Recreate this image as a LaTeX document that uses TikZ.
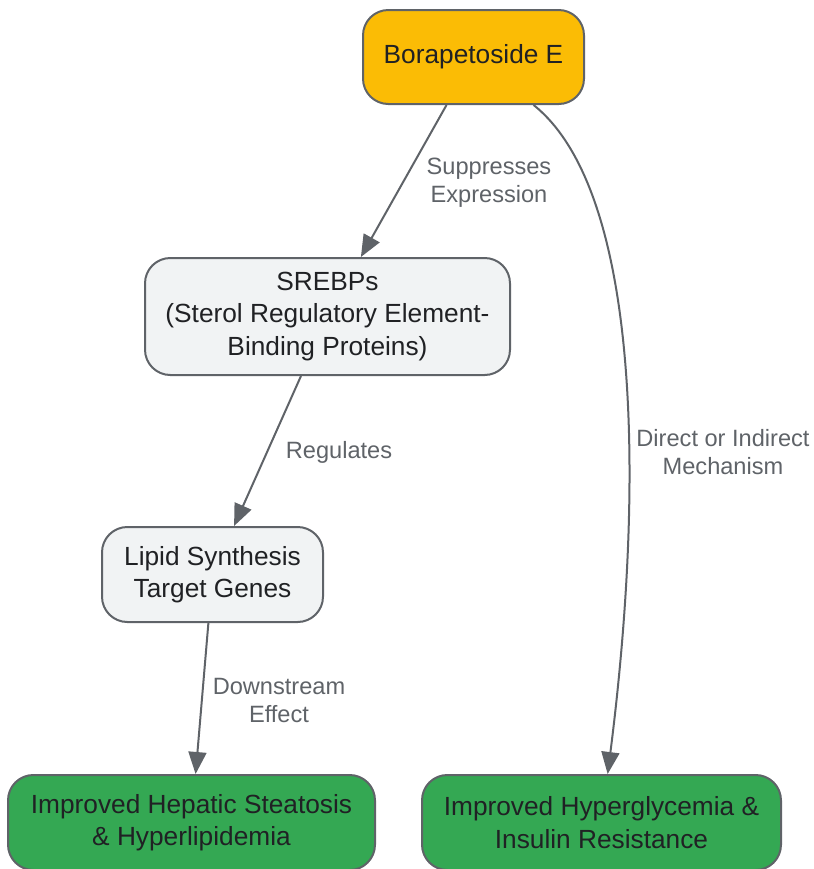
\documentclass[tikz,border=0pt]{standalone}
\usepackage{fontspec}
\setmainfont{Liberation Sans}
\usetikzlibrary{shapes,arrows.meta,positioning}
\definecolor{edgegray}{HTML}{5F6368}
\definecolor{textdark}{HTML}{202124}
\definecolor{boxgray}{HTML}{F1F3F4}
\definecolor{boxyellow}{HTML}{FBBC05}
\definecolor{boxgreen}{HTML}{34A853}
\tikzstyle{box} = [rectangle, rounded corners=19pt, draw=edgegray, line width=1.5pt, text=textdark, align=center, inner sep=0pt, font=\fontsize{19.7}{24.4}\selectfont]
\tikzstyle{ynode} = [box, fill=boxyellow]
\tikzstyle{gnode} = [box, fill=boxgray]
\tikzstyle{rnode} = [box, fill=boxgreen]
\tikzstyle{line} = [draw=edgegray, line width=1.5pt, -{Triangle[length=16.5pt,width=13.5pt]}]
\tikzstyle{elabel} = [text=edgegray, align=center, font=\fontsize{17.7}{21}\selectfont]

\begin{document}
\begin{tikzpicture}[x=0.75pt, y=-0.75pt]
			\useasboundingbox (0,0) rectangle (814,869);
			\node [ynode, minimum width=165.75pt, minimum height=70.5pt] (bora) at (473.5, 57) {Borapetoside E};
			\node [gnode, minimum width=273.75pt, minimum height=87.75pt] (srebp) at (327.5, 316.5) {SREBPs\\(Sterol Regulatory Element-\\Binding Proteins)};
			\node [gnode, minimum width=165.75pt, minimum height=71.25pt] (lipid) at (212.5, 574.5) {Lipid Synthesis\\Target Genes};
			\node [rnode, minimum width=275.25pt, minimum height=71.25pt] (hepatic) at (191.5, 822.5) {Improved Hepatic Steatosis\\\& Hyperlipidemia};
			\node [rnode, minimum width=269.25pt, minimum height=71.25pt] (hyper) at (601.5, 822.5) {Improved Hyperglycemia \&\\Insulin Resistance};
			
			\path [line] (bora) -- (srebp);
			\path [line] (srebp) -- (lipid);
			\path [line] (lipid) -- (hepatic);
			\path [line] (bora) .. controls (640, 190) and (645, 480) .. (hyper);
			
			\node [elabel] (l1) at (489, 183) {Suppresses\\Expression};
			\node [elabel] (l2) at (339, 452) {Regulates};
			\node [elabel] (l3) at (279, 700) {Downstream\\Effect};
			\node [elabel] (l4) at (723, 452) {Direct or Indirect\\Mechanism};
		\end{tikzpicture}
\end{document}
